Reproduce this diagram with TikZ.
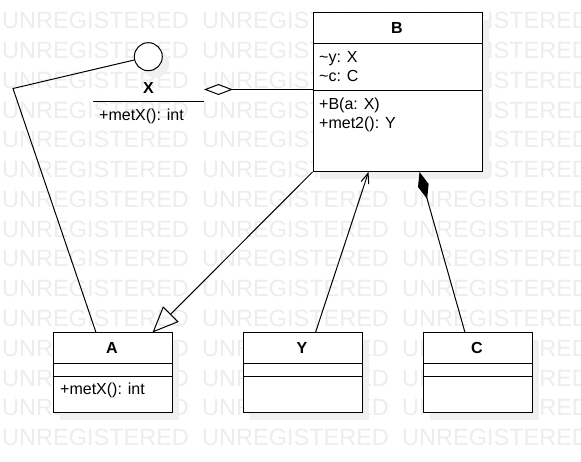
\documentclass[tikz,border=0pt]{standalone}
\usepackage{fontspec}
\setmainfont{Liberation Sans}
\usetikzlibrary{arrows.meta,calc}
\definecolor{wmgray}{RGB}{237,237,237}
\definecolor{shadowgray}{RGB}{240,240,240}
\tikzset{
  umlbox/.style={draw=black, fill=white, line width=1pt, rectangle, inner sep=0pt, anchor=north west},
  shade/.style={fill=shadowgray, draw=none},
  sepline/.style={draw=black, line width=1pt},
  lbl/.style={inner sep=0pt, font=\fontsize{16}{18}\selectfont, anchor=base west},
  ttl/.style={inner sep=0pt, font=\bfseries\fontsize{16}{18}\selectfont, anchor=base},
  conn/.style={draw=black, line width=1pt},
  wm/.style={inner sep=0pt, text=wmgray, font=\fontsize{23.5}{28}\selectfont, anchor=base west}
}
\begin{document}
\begin{tikzpicture}[x=1pt,y=-1pt]
\useasboundingbox (0,0) rectangle (581,462);
\clip (0,0) rectangle (581,462);
\fill[white] (0,0) rectangle (581,462);
% watermark
\foreach \k in {0,...,14}{
  \foreach \i in {0,1,2}{
    \node[wm] (wm-\k-\i) at (2+200*\i, 29+29.75*\k) {UNREGISTERED};
  }
}
% shadows
\fill[shade] (319.5,20.5) rectangle (488.5,179);
\fill[shade] (59.5,340.5) rectangle (178.5,420);
\fill[shade] (249.5,340.5) rectangle (368.5,420);
\fill[shade] (429.5,340.5) rectangle (538.5,420);
\fill[shade] (155.3,63.7) circle (14);
% class B
\node[umlbox, minimum width=169, minimum height=158.5] (B) at (312.5,12.5) {};
\draw[sepline] ($(B.north west)+(0,31)$) -- ($(B.north east)+(0,31)$);
\draw[sepline] ($(B.north west)+(0,78)$) -- ($(B.north east)+(0,78)$);
\node[ttl] (Bt) at (397,33.3) {B};
\node[lbl] (By) at (319,62.7) {\textasciitilde y: X};
\node[lbl] (Bc) at (319,81.2) {\textasciitilde c: C};
\node[lbl] (Bm1) at (319,110) {+B(a: X)};
\node[lbl] (Bm2) at (319,128.3) {+met2(): Y};
% class A
\node[umlbox, minimum width=119, minimum height=79.5] (A) at (52.5,332.5) {};
\draw[sepline] ($(A.north west)+(0,31)$) -- ($(A.north east)+(0,31)$);
\draw[sepline] ($(A.north west)+(0,43.5)$) -- ($(A.north east)+(0,43.5)$);
\node[ttl] (At) at (112,353.3) {A};
\node[lbl] (Am) at (60,394.5) {+metX(): int};
% class Y
\node[umlbox, minimum width=119, minimum height=79.5] (Y) at (242.5,332.5) {};
\draw[sepline] ($(Y.north west)+(0,31)$) -- ($(Y.north east)+(0,31)$);
\draw[sepline] ($(Y.north west)+(0,43.5)$) -- ($(Y.north east)+(0,43.5)$);
\node[ttl] (Yt) at (302,353.3) {Y};
% class C
\node[umlbox, minimum width=109, minimum height=79.5] (C) at (422.5,332.5) {};
\draw[sepline] ($(C.north west)+(0,31)$) -- ($(C.north east)+(0,31)$);
\draw[sepline] ($(C.north west)+(0,43.5)$) -- ($(C.north east)+(0,43.5)$);
\node[ttl] (Ct) at (477,353.3) {C};
% interface X
\node[circle, draw=black, fill=white, line width=1pt, minimum size=28, inner sep=0pt] (Xc) at (148.3,56.7) {};
\node[ttl] (Xt) at (148.5,93.3) {X};
\coordinate (Xl1) at (93,101.7);
\coordinate (Xl2) at (204,101.7);
\draw[sepline] (Xl1) -- (Xl2);
\node[lbl] (Xm) at (99,120.7) {+metX(): int};
\coordinate (aggtip) at (204,89.5);
\coordinate (bend) at (13,88.5);
% connectors
\draw[conn] (Xc) -- (bend) -- ($(A.north west)+(43.5,0)$);
\draw[conn, -{Diamond[open,length=29pt,width=11pt]}] ($(B.north west)+(0,77)$) -- (aggtip);
\draw[conn, -{Triangle[open,length=26pt,width=22pt]}] (B.south west) -- ($(A.north west)+(100,0)$);
\draw[conn, -{Straight Barb[length=10pt,width=8pt]}] ($(Y.north west)+(73,0)$) -- ($(B.south west)+(56,0)$);
\draw[conn, -{Diamond[length=28pt,width=11pt]}] ($(C.north west)+(42.5,0)$) -- ($(B.south west)+(107,0)$);
\end{tikzpicture}
\end{document}
